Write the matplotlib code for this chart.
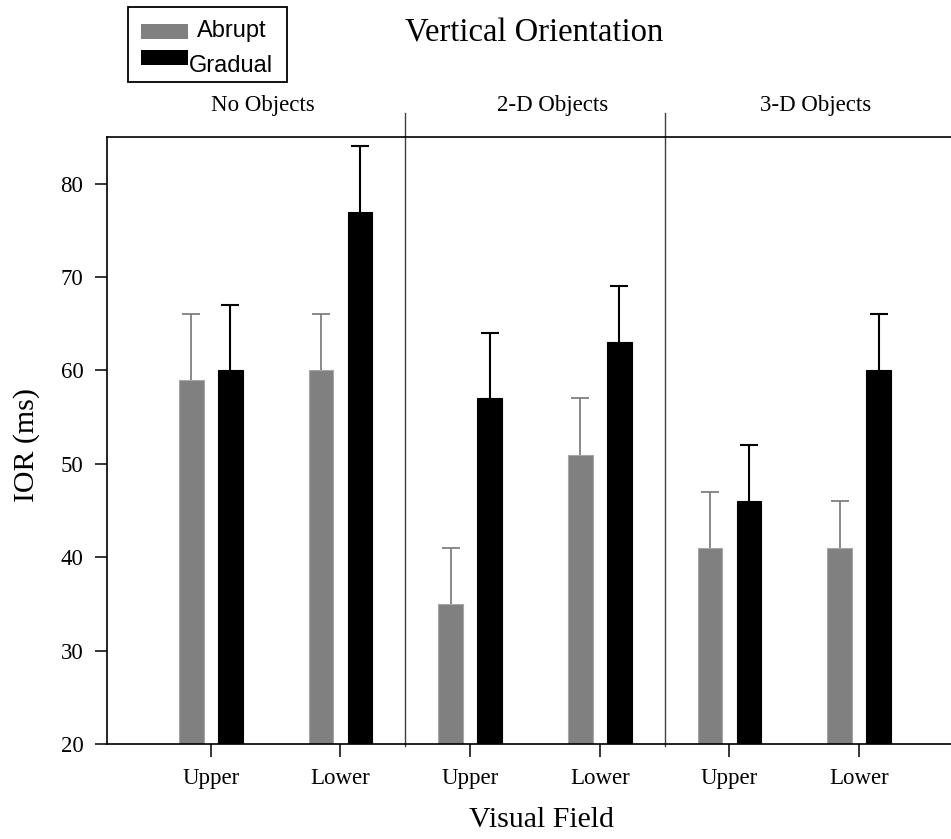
import numpy as np
import matplotlib
matplotlib.use("Agg")
import matplotlib.pyplot as plt
from matplotlib.patches import Rectangle
from matplotlib.transforms import blended_transform_factory

# data
groups = ["No Objects", "2-D Objects", "3-D Objects"]
fields = ["Upper", "Lower"]
abrupt = [59, 60, 35, 51, 41, 41]
abrupt_err = [7, 6, 6, 6, 6, 5]
gradual = [60, 77, 57, 63, 46, 60]
gradual_err = [7, 7, 7, 6, 6, 6]

W, H = 951, 839
serif = "Liberation Serif"
sans = "Liberation Sans"
grey = "#808080"


def px(x, y):  # pixel -> figure fraction
    return x / W, 1 - y / H


def drop_lower_caps(container, heights):
    # only the upper whisker has a cap in the original
    for cap in container.errorbar.lines[1]:
        if np.allclose(cap.get_ydata(), heights):
            cap.set_visible(False)


fig = plt.figure(figsize=(W / 100, H / 100), dpi=100)
ax = fig.add_axes([107 / W, (H - 744) / H, (W - 107) / W, (744 - 137) / H])

x = np.arange(len(abrupt))
off, bw = 0.15, 0.19
b1 = ax.bar(x - off, abrupt, bw, color=grey, edgecolor="#a6a6a6", linewidth=0.8,
            yerr=[np.zeros(len(abrupt)), abrupt_err], ecolor=grey,
            error_kw=dict(elinewidth=1.3, capsize=6.5, capthick=1.3), zorder=2)
b2 = ax.bar(x + off, gradual, bw, color="black", edgecolor="black", linewidth=0.8,
            yerr=[np.zeros(len(gradual)), gradual_err], ecolor="black",
            error_kw=dict(elinewidth=1.5, capsize=6.5, capthick=1.5), zorder=2)
drop_lower_caps(b1, abrupt)
drop_lower_caps(b2, gradual)

ax.set_ylim(20, 85)
ax.set_xlim(-0.8, 5.708)
ax.set_yticks(np.arange(20, 81, 10))
ax.set_xticks(x)
ax.set_xticklabels(fields * len(groups))
for lab in ax.get_xticklabels() + ax.get_yticklabels():
    lab.set_fontfamily(serif)
    lab.set_fontsize(16.5)
ax.tick_params(direction="out", length=9, width=1.1, pad=8)
ax.spines["right"].set_visible(False)
for s in ["left", "bottom", "top"]:
    ax.spines[s].set_linewidth(1.2)

# section dividers and section names
for i in range(1, len(groups)):
    ax.axvline(2 * i - 0.5, ymin=-0.003, ymax=1.04, color="#404040", lw=1.0, clip_on=False)
trans = blended_transform_factory(ax.transData, fig.transFigure)
for g, gx in zip(groups, [0.40, 2.635, 4.667]):
    ax.text(gx, 1 - 105 / H, g, transform=trans, ha="center", va="center",
            fontfamily=serif, fontsize=16.5)

ax.set_ylabel("IOR (ms)", fontfamily=serif, fontsize=21.5, va="center")
ax.yaxis.set_label_coords((27 - 107) / 844, (744 - 445) / 607)
ax.set_xlabel("Visual Field", fontfamily=serif, fontsize=21.5, va="center")
ax.xaxis.set_label_coords((541 - 107) / 844, (744 - 820) / 607)

fig.text(*px(534, 33), "Vertical Orientation", ha="center", va="center",
         fontfamily=serif, fontsize=23.5)

# legend box drawn by hand (entries sit unevenly in the original)
x0, y0 = px(128, 82)
x1, y1 = px(287, 7)
fig.add_artist(Rectangle((x0, y0), x1 - x0, y1 - y0, transform=fig.transFigure,
                         facecolor="white", edgecolor="black", lw=1.3))
for col, top, name, tx, base in [(grey, 24, "Abrupt", 197, 37.5),
                                 ("black", 50, "Gradual", 189, 71.5)]:
    a, b = px(141, top + 15)
    c, d = px(188, top)
    fig.add_artist(Rectangle((a, b), c - a, d - b, transform=fig.transFigure,
                             facecolor=col, edgecolor="none"))
    fig.text(*px(tx, base), name, ha="left", va="baseline", fontfamily=sans, fontsize=17)

fig.savefig("out.png", dpi=100)
